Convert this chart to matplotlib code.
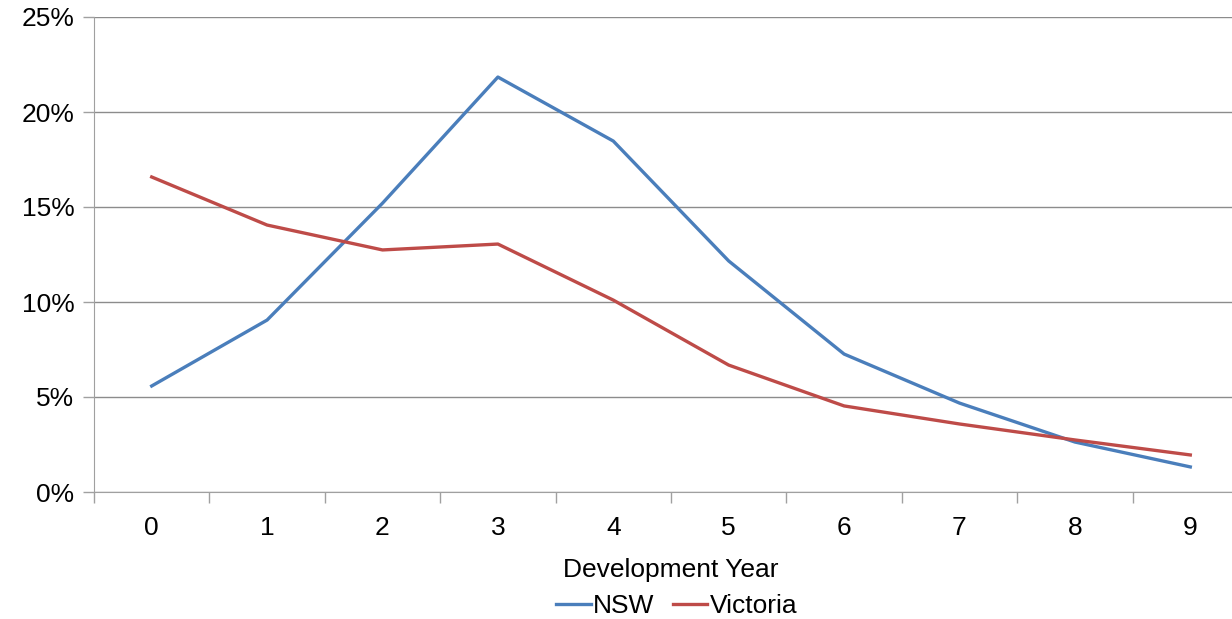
import numpy as np
import matplotlib.pyplot as plt
from matplotlib.ticker import FuncFormatter, FixedLocator

plt.rcParams['font.family'] = ['Liberation Sans', 'DejaVu Sans']

years = [0, 1, 2, 3, 4, 5, 6, 7, 8, 9]
nsw = [5.58, 9.05, 15.2, 21.84, 18.47, 12.16, 7.26, 4.68, 2.63, 1.32]
victoria = [16.58, 14.05, 12.74, 13.05, 10.1, 6.68, 4.53, 3.58, 2.74, 1.95]

fig = plt.figure(figsize=(12.32, 6.19), dpi=100)
ax = fig.add_axes([94/1232, 127/619, 1154/1232, 475/619])

ax.plot(years, nsw, color='#4A7EBB', lw=2.4, label='NSW')
ax.plot(years, victoria, color='#BE4B48', lw=2.4, label='Victoria')

ax.set_xlim(-0.5, 9.5)
ax.set_ylim(0, 25)
ax.set_yticks(np.arange(0, 26, 5))
ax.yaxis.set_major_formatter(FuncFormatter(lambda v, p: '%d%%' % v))
ax.grid(axis='y', color='#8c8c8c', lw=1)
ax.set_axisbelow(True)

# category labels centred, tick marks on the boundaries between them
ax.set_xticks(years)
ax.xaxis.set_minor_locator(FixedLocator(np.arange(-0.5, 10, 1)))
ax.tick_params(axis='x', which='major', length=0, pad=17, labelsize=19)
ax.tick_params(axis='x', which='minor', length=8, color='#a0a0a0', width=1)
ax.tick_params(axis='y', length=8, color='#a0a0a0', width=1, labelsize=19, pad=6)

for s in ['top', 'right']:
    ax.spines[s].set_visible(False)
ax.spines['left'].set_color('#a0a0a0')
ax.spines['bottom'].set_color('#a0a0a0')

ax.set_xlabel('Development Year', fontsize=19, labelpad=13)
fig.legend(loc='center', bbox_to_anchor=(677/1232, 1 - 606/619), ncol=2, frameon=False,
           fontsize=19, handlelength=1.3, handletextpad=0.1, columnspacing=0.7)

fig.savefig('out.png', dpi=100)
